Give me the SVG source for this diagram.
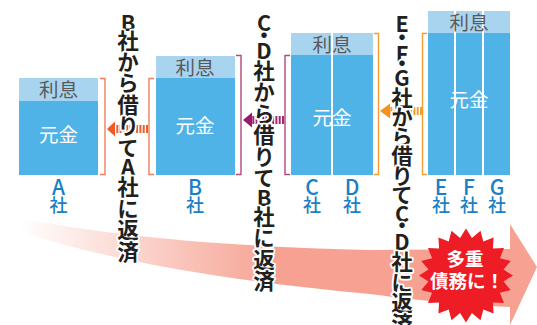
<svg xmlns="http://www.w3.org/2000/svg" width="537" height="325" viewBox="0 0 537 325">
<style>
text{font-family:"Noto Sans CJK JP","Noto Sans",sans-serif}
.p{fill:#4fb3e8}.i{fill:#a8d4f0}.d{stroke:#fff;stroke-width:2;fill:none}
.lb{font-size:19.500px;text-anchor:middle;fill:#595959}
.gk{font-size:19.500px;text-anchor:middle;fill:#fff}
.co{font-size:18px;font-weight:500;text-anchor:middle;fill:#1a7fc4}
.cl{font-size:21px;font-weight:500;text-anchor:middle;fill:#1a7fc4}
.v{font-size:21.500px;font-weight:700;fill:#231f20;stroke:#fff;stroke-width:3.5px;paint-order:stroke;stroke-linejoin:round;writing-mode:vertical-rl;text-orientation:upright}
.br{fill:none;stroke-width:1.4}
.o1{stroke:#ef7f5c}.o2{stroke:#b5477f}.o3{stroke:#f59c33}
.s{fill:none;stroke-width:8;stroke-dasharray:2 1.3}
.st{font-size:18.500px;font-weight:700;text-anchor:middle;fill:#fff}
</style>
<defs>
<linearGradient id="g" gradientUnits="userSpaceOnUse" x1="19" y1="0" x2="280" y2="0"><stop offset="0" stop-color="#fff"/><stop offset="1" stop-color="#f6a192"/></linearGradient>
</defs>
<g id="big-arrow"><path d="M19 218C120 238 240 247 370 250L510 249V224L537 267 510 325V307C450 304 400 298 370 294 240 282 110 262 19 231Z" fill="url(#g)"/></g>
<g id="connectors">
<path class="s" stroke="#e8602c" d="M148 129H114"/><path d="M107 129L115 121.500V136.500Z" fill="#f05a28"/>
<path class="s" stroke="#a0286e" d="M284 120H251"/><path d="M243 120L252 112.500V127.500Z" fill="#97196a"/>
<path class="s" stroke="#f59c33" d="M422 111H389"/><path d="M380 111L390 103.500V118.500Z" fill="#f39221"/>
</g>
<g id="company-a">
<rect class="i" x="19" y="78" width="79" height="23"/><rect class="p" x="19" y="101" width="79" height="74"/>
<text class="lb" x="58.500" y="96.500">利息</text><text class="gk" x="58.500" y="142">元金</text>
<path class="br o1" d="M100 78.500H105V174.500H100"/>
<text class="cl" x="58.500" y="195">A</text><text class="co" x="58.500" y="212">社</text>
</g>
<g id="company-b">
<rect class="i" x="156" y="56" width="79" height="22"/><rect class="p" x="156" y="78" width="79" height="97"/>
<text class="lb" x="195" y="75">利息</text><text class="gk" x="195" y="133">元金</text>
<path class="br o1" d="M154 78.500H149V174.500H154"/><path class="br o2" d="M236 55.500H241V174.500H236"/>
<text class="cl" x="195" y="195">B</text><text class="co" x="195" y="212">社</text>
</g>
<g id="company-cd">
<rect class="i" x="291" y="33" width="82" height="22"/><rect class="p" x="291" y="55" width="82" height="120"/>
<path class="d" d="M332 33V175"/>
<text class="lb" x="332" y="52">利息</text><text class="gk" x="332" y="125">元金</text>
<path class="br o2" d="M290 55.500H285V174.500H290"/><path class="br o3" d="M374 33.500H378.500V174.500H374"/>
<text class="cl" x="312" y="195">C</text><text class="co" x="312" y="212">社</text>
<text class="cl" x="352" y="195">D</text><text class="co" x="352" y="212">社</text>
</g>
<g id="company-efg">
<rect class="i" x="428" y="11" width="82" height="22"/><rect class="p" x="428" y="33" width="82" height="142"/>
<path class="d" d="M455 11V175M483 11V175"/>
<text class="lb" x="469" y="30">利息</text><text class="gk" x="469" y="107">元金</text>
<path class="br o3" d="M427 33.500H422.500V174.500H427"/>
<text class="cl" x="441" y="195">E</text><text class="co" x="441" y="212">社</text>
<text class="cl" x="469" y="195">F</text><text class="co" x="469" y="212">社</text>
<text class="cl" x="497" y="195">G</text><text class="co" x="497" y="212">社</text>
</g>
<g id="labels">
<text class="v" x="128" y="12 30 51 72.500 94 115.500 137 156 176 198 219.500 241">B社から借りてA社に返済</text>
<text class="v" x="264" y="12 24.500 40 60 81.500 103 124.500 146 167.500 187 206 227.500 249 270.500">C・D社から借りてB社に返済</text>
<text class="v" x="402" y="13 26.500 43 52.500 67 87 106.500 126 145.500 165 184.500 203 214.500 231 251 272 292 313">E・F・G社から借りてC・D社に返済</text>
</g>
<g id="burst">
<polygon transform="translate(466 275.500)" fill="#ee1c25" points="47,0 37.500,5.900 44.700,14.500 33.900,17.300 38,27.600 26.900,26.900 27.600,38 17.300,33.900 14.500,44.700 5.900,37.500 0,47 -5.900,37.500 -14.500,44.700 -17.300,33.900 -27.600,38 -26.900,26.900 -38,27.600 -33.900,17.300 -44.700,14.500 -37.500,5.900 -47,0 -37.500,-5.900 -44.700,-14.500 -33.900,-17.300 -38,-27.600 -26.900,-26.900 -27.600,-38 -17.300,-33.900 -14.500,-44.700 -5.900,-37.500 0,-47 5.900,-37.500 14.500,-44.700 17.300,-33.900 27.600,-38 26.900,-26.900 38,-27.600 33.900,-17.300 44.700,-14.500 37.500,-5.900"/>
<text class="st" x="465" y="266">多重</text><text class="st" x="467" y="288">債務に！</text>
</g>
</svg>
